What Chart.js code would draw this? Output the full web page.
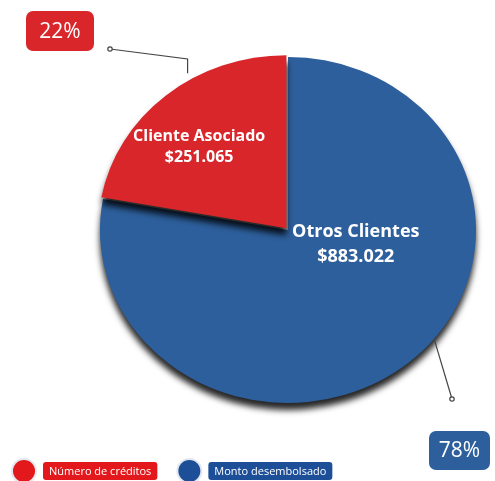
<!DOCTYPE html>
<html>
<head>
<meta charset="utf-8">
<script src="https://cdn.jsdelivr.net/npm/chart.js@4.4.0/dist/chart.umd.min.js"></script>
<style>
  html, body { margin: 0; padding: 0; background: #fff; }
  #wrap { width: 495px; height: 481px; }
</style>
</head>
<body>
<div id="wrap"><canvas id="chart"></canvas></div>
<script>
// data
const sliceNames = ['Otros Clientes', 'Cliente Asociado'];
const sliceValues = [883022, 251065];
const sliceColors = ['#2d5f9c', '#d8262a'];
const legendLabels = ['Número de créditos', 'Monto desembolsado'];
const legendColors = ['#e3181c', '#1d4f99'];

const total = sliceValues.reduce((a, b) => a + b, 0);
const pct = v => Math.round(v / total * 100) + '%';
const money = v => '$' + String(v).replace(/\B(?=(\d{3})+(?!\d))/g, '.');

// the pie is drawn a bit flattened, like the tilted original
const squash = 0.92;
// label placement (angle in degrees on canvas, fraction of radius, font size, line gap)
const labelPos = [
  { ang: 13, r: 0.37, size: 18, gap: 25 },
  { ang: -135, r: 0.62, size: 16, gap: 21 }
];
// callouts: anchor angle on the rim, path points and percent box
const callouts = [
  { ang: 39, path: [[452, 399]], box: { x: 429, y: 431, w: 61, h: 39 } },
  { ang: -120, path: [[null, 59], [110, 49]], box: { x: 26, y: 11, w: 68, h: 40 } }
];

function roundRect(ctx, x, y, w, h, r) {
  ctx.beginPath();
  ctx.moveTo(x + r, y);
  ctx.arcTo(x + w, y, x + w, y + h, r);
  ctx.arcTo(x + w, y + h, x, y + h, r);
  ctx.arcTo(x, y + h, x, y, r);
  ctx.arcTo(x, y, x + w, y, r);
  ctx.closePath();
}

const extras = {
  id: 'extras',
  beforeDatasetsDraw(chart) {
    const ctx = chart.ctx;
    const arc = chart.getDatasetMeta(0).data[0];
    ctx.save();
    ctx.translate(arc.x, arc.y);
    ctx.scale(1, squash);
    ctx.translate(-arc.x, -arc.y);
    ctx.shadowColor = 'rgba(0,0,0,0.85)';
    ctx.shadowBlur = 6;
    ctx.shadowOffsetY = 7;
  },
  afterDatasetsDraw(chart) {
    const ctx = chart.ctx;
    ctx.restore();
    const arcs = chart.getDatasetMeta(0).data;
    const offsets = chart.data.datasets[0].offset;

    arcs.forEach((arc, i) => {
      const mid = (arc.startAngle + arc.endAngle) / 2;
      const cx = arc.x + Math.cos(mid) * offsets[i];
      const cy = arc.y + Math.sin(mid) * offsets[i] * squash;
      const R = arc.outerRadius;

      // text inside the slice
      const lp = labelPos[i];
      const la = lp.ang * Math.PI / 180;
      const lx = cx + Math.cos(la) * R * lp.r;
      const ly = cy + Math.sin(la) * R * lp.r * squash;
      ctx.save();
      ctx.fillStyle = '#ffffff';
      ctx.font = 'bold ' + lp.size + 'px "Open Sans"';
      ctx.textAlign = 'center';
      ctx.textBaseline = 'middle';
      ctx.fillText(sliceNames[i], lx, ly - lp.gap / 2);
      ctx.fillText(money(sliceValues[i]), lx, ly + lp.gap / 2);
      ctx.restore();

      // callout line
      const c = callouts[i];
      const a = c.ang * Math.PI / 180;
      let px = cx + Math.cos(a) * R;
      let py = cy + Math.sin(a) * R * squash;
      ctx.save();
      ctx.strokeStyle = '#444';
      ctx.lineWidth = 1.2;
      ctx.beginPath();
      ctx.moveTo(px, py);
      c.path.forEach(p => {
        px = p[0] === null ? px : p[0];
        py = p[1];
        ctx.lineTo(px, py);
      });
      ctx.stroke();
      ctx.fillStyle = '#fff';
      ctx.beginPath();
      ctx.arc(px, py, 2.2, 0, Math.PI * 2);
      ctx.fill();
      ctx.stroke();

      // percent box
      const b = c.box;
      ctx.fillStyle = sliceColors[i];
      roundRect(ctx, b.x, b.y, b.w, b.h, 7);
      ctx.fill();
      ctx.fillStyle = '#fff';
      ctx.font = '21px "Open Sans"';
      ctx.textAlign = 'center';
      ctx.textBaseline = 'middle';
      ctx.fillText(pct(sliceValues[i]), b.x + b.w / 2, b.y + b.h / 2 + 1);
      ctx.restore();
    });

    // legend
    ctx.save();
    ctx.font = '11px "Open Sans"';
    ctx.textBaseline = 'middle';
    let x = 24;
    const y = 471;
    legendLabels.forEach((lab, i) => {
      ctx.fillStyle = 'rgba(200,210,225,0.5)';
      ctx.beginPath();
      ctx.arc(x, y, 13, 0, Math.PI * 2);
      ctx.fill();
      ctx.fillStyle = legendColors[i];
      ctx.beginPath();
      ctx.arc(x, y, 11, 0, Math.PI * 2);
      ctx.fill();
      const tw = ctx.measureText(lab).width;
      const rx = x + 19;
      ctx.fillStyle = legendColors[i];
      roundRect(ctx, rx, y - 9, tw + 12, 18, 3);
      ctx.fill();
      ctx.fillStyle = '#fff';
      ctx.textAlign = 'left';
      ctx.fillText(lab, rx + 6, y + 1);
      x = rx + tw + 12 + 32;
    });
    ctx.restore();
  }
};

new Chart(document.getElementById('chart'), {
  type: 'pie',
  data: {
    labels: sliceNames,
    datasets: [{
      data: sliceValues,
      backgroundColor: sliceColors,
      borderWidth: 0,
      offset: [0, 10],
      radius: 188
    }]
  },
  options: {
    responsive: true,
    maintainAspectRatio: false,
    animation: false,
    events: [],
    layout: { padding: { left: 81, right: 0, top: 0, bottom: 21 } },
    plugins: {
      legend: { display: false },
      tooltip: { enabled: false }
    }
  },
  plugins: [extras]
});
</script>
</body>
</html>
